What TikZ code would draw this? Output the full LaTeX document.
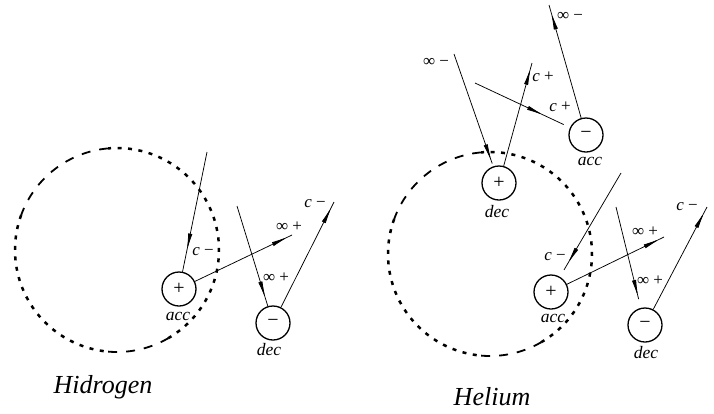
\documentclass[tikz,border=0pt]{standalone}
\usepackage{fontspec}
\setmainfont{Liberation Serif}
\usetikzlibrary{arrows.meta,decorations.markings}
\newcommand\myring[1]{%
  \draw[ringdots] (#1) ++(60:102) arc[start angle=60,end angle=-95,radius=102];
  \draw[ringlong] (#1) ++(-95:102) arc[start angle=-95,end angle=-160,radius=102];
  \draw[ringdots] (#1) ++(-160:102) arc[start angle=-160,end angle=-265,radius=102];
  \draw[ringlong] (#1) ++(-265:102) arc[start angle=-265,end angle=-300,radius=102];
}
\begin{document}
\begin{tikzpicture}[x=1pt,y=-1pt,
  ringdots/.style={line width=2.5pt,dash pattern=on 4pt off 6.5pt},
  ringlong/.style={line width=1.8pt,dash pattern=on 9pt off 9pt},
  ball/.style={circle,draw,line width=1.3pt,minimum size=34pt,inner sep=0pt,font=\fontsize{20}{20}\selectfont},
  lab/.style={inner sep=0pt,font=\fontsize{17.5}{19}\selectfont\itshape},
  sym/.style={inner sep=0pt,font=\fontsize{17}{19}\selectfont},
  title/.style={inner sep=0pt,font=\fontsize{26}{30}\selectfont\itshape},
  ray/.style={line width=0.75pt,postaction={decorate},
    decoration={markings,mark=at position #1 with {\arrow{Latex[length=18pt,width=4.2pt]}}}},
]
\useasboundingbox (0,0) rectangle (714,413);

% ---------------- Hydrogen ----------------
\coordinate (hc) at (117,250);
\myring{hc}
\node[ball] (hacc) at (179,289) {+};
\node[lab] (haccl) at (178,316) {acc};
\node[ball] (hdec) at (273,323) {−};
\node[lab] (hdecl) at (269,350) {dec};

\coordinate (h1s) at (207,152);
\coordinate (h2e) at (292,235);
\coordinate (h3s) at (237,206);
\coordinate (h4e) at (334,202);

\draw[ray=0.83] (h1s) -- (hacc);
\draw[ray=0.97] (hacc) -- (h2e);
\draw[ray=0.93] (h3s) -- (hdec);
\draw[ray=0.96] (hdec) -- (h4e);

\node[sym] (hl1) at (203,252) {\textit{c} −};
\node[sym] (hl2) at (289,227) {∞ +};
\node[sym] (hl3) at (276,278) {∞ +};
\node[sym] (hl4) at (315,204) {\textit{c} −};

\node[title] (htitle) at (103,387) {Hidrogen};

% ---------------- Helium ----------------
\coordinate (ec) at (490,254);
\myring{ec}
\node[ball] (edec) at (499,183) {+};
\node[lab] (edecl) at (497,212) {dec};
\node[ball] (eacc) at (586,135) {−};
\node[lab] (eaccl) at (590,161) {acc};
\node[ball] (eacc2) at (551,292) {+};
\node[lab] (eacc2l) at (553,318) {acc};
\node[ball] (edec2) at (645,325) {−};
\node[lab] (edec2l) at (646,353) {dec};

\coordinate (eas) at (454,54);
\coordinate (ebe) at (532,63);
\coordinate (ecs) at (475,83);
\coordinate (ede) at (549,5);
\coordinate (ees) at (621,173);
\coordinate (efe) at (664,237);
\coordinate (egs) at (616,207);
\coordinate (ehe) at (707,207);

\draw[ray=0.96,shorten >=3pt] (eas) -- (edec);
\draw[ray=0.96] (edec) -- (ebe);
\draw[ray=0.73,shorten >=7pt] (ecs) -- (eacc);
\draw[ray=0.94] (eacc) -- (ede);
\draw[ray=0.88,shorten >=8pt] (ees) -- (eacc2);
\draw[ray=0.97] (eacc2) -- (efe);
\draw[ray=0.9,shorten >=9pt] (egs) -- (edec2);
\draw[ray=0.96] (edec2) -- (ehe);

\node[sym] (el1) at (436,62) {∞ −};
\node[sym] (el2) at (543,77) {\textit{c} +};
\node[sym] (el3) at (560,107) {\textit{c} +};
\node[sym] (el4) at (570,16) {∞ −};
\node[sym] (el5) at (555,257) {\textit{c} −};
\node[sym] (el6) at (645,232) {∞ +};
\node[sym] (el7) at (650,281) {∞ +};
\node[sym] (el8) at (687,207) {\textit{c} −};

\node[title] (etitle) at (492,397) {Helium};
\end{tikzpicture}
\end{document}
